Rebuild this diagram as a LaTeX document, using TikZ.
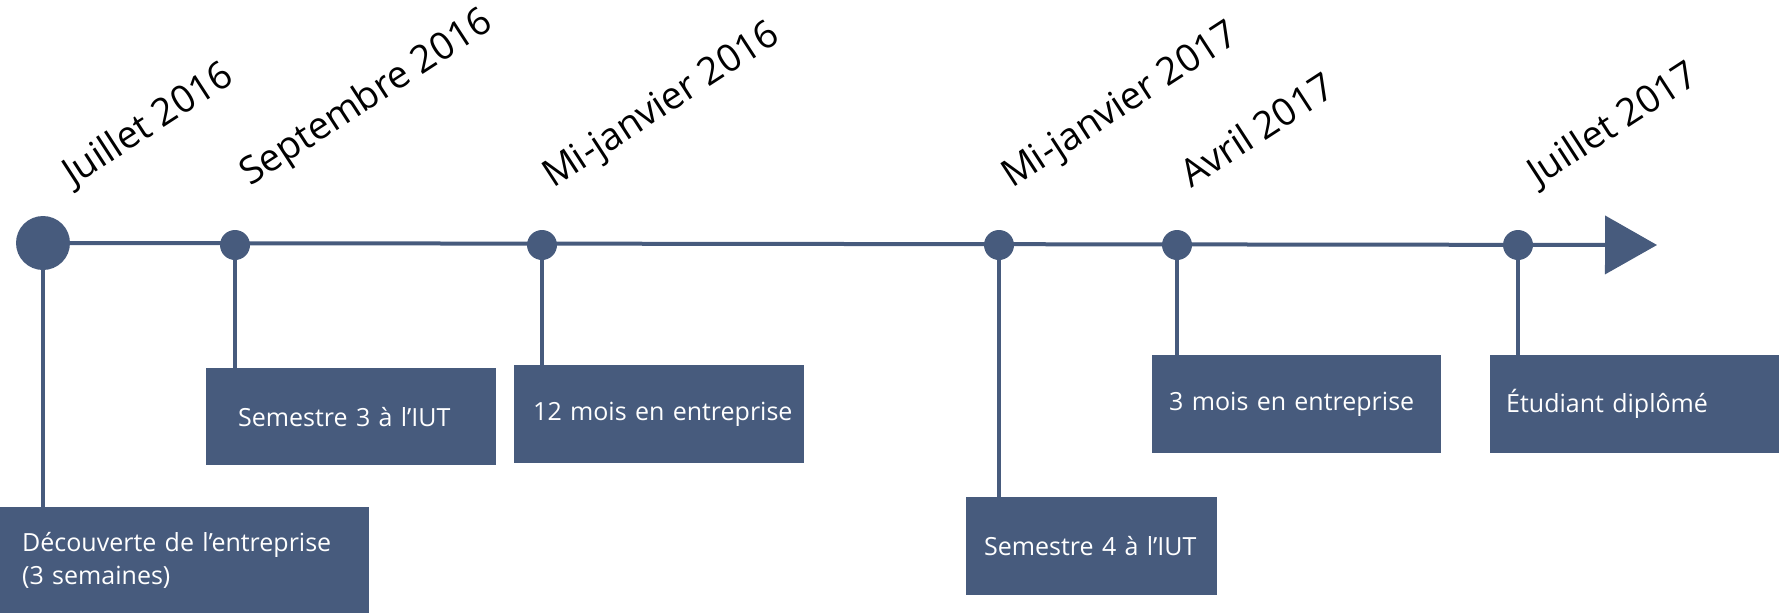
\documentclass[tikz,border=0pt]{standalone}
\usepackage{fontspec}
\setmainfont{Open Sans}
\usetikzlibrary{arrows.meta}
\definecolor{timeblue}{HTML}{475B7D}
\tikzset{
  dot/.style={circle,fill=timeblue,inner sep=0pt,minimum size=30pt},
  bigdot/.style={dot,minimum size=54pt},
  datelabel/.style={anchor=base west,rotate=33,inner sep=0pt,font=\fontsize{38}{40}\selectfont},
  stepbox/.style={rectangle,fill=timeblue,text=white,anchor=north west,inner xsep=0pt,inner ysep=0pt,font=\fontsize{25}{33}\selectfont},
  pad/.style={execute at begin node={\leftskip=#1pt\hyphenpenalty=10000}},
  stem/.style={draw=timeblue,line width=3.5pt},
  mainline/.style={draw=timeblue,line width=4pt,-{Triangle[width=58pt,length=52pt]}},
}
\begin{document}
\begin{tikzpicture}[x=1pt,y=-1pt]

%SPACING
\useasboundingbox (0,0) rectangle (1779,614);
%SPACING

\node[bigdot](jul16) at (43,243) {};
\node[dot](sep16) at (235,245) {};
\node[dot](jan16) at (542,245) {};
\node[dot](jan17) at (999,245) {};
\node[dot](avr17) at (1177,245) {};
\node[dot](jul17) at (1518,245) {};
\coordinate (tip) at (1657,245);

\node[datelabel](l1) at (73,187) {Juillet 2016};
\node[datelabel](l2) at (250,187) {Septembre 2016};
\node[datelabel](l3) at (553,189) {Mi-janvier 2016};
\node[datelabel](l4) at (1012,189) {Mi-janvier 2017};
\node[datelabel](l5) at (1191,189) {Avril 2017};
\node[datelabel](l6) at (1538,187) {Juillet 2017};

\node[stepbox,pad=22,text width=369pt,minimum height=106pt](b1) at (0,507) {Découverte de l’entreprise\\(3 semaines)};
\node[stepbox,pad=32,text width=290pt,minimum height=97pt](b2) at (206,368) {Semestre 3 à l’IUT};
\node[stepbox,pad=19,text width=290pt,minimum height=98pt](b3) at (514,365) {12 mois en entreprise};
\node[stepbox,pad=18,text width=251pt,minimum height=98pt](b4) at (966,497) {Semestre 4 à l’IUT};
\node[stepbox,pad=17,text width=289pt,minimum height=98pt](b5) at (1152,355) {3 mois en entreprise};
\node[stepbox,pad=16,text width=289pt,minimum height=98pt](b6) at (1490,355) {Étudiant diplômé};

\draw[mainline] (jul16) -- (tip);

\draw[stem] (jul16) -- (jul16 |- b1.north);
\draw[stem] (sep16) -- (sep16 |- b2.north);
\draw[stem] (jan16) -- (jan16 |- b3.north);
\draw[stem] (jan17) -- (jan17 |- b4.north);
\draw[stem] (avr17) -- (avr17 |- b5.north);
\draw[stem] (jul17) -- (jul17 |- b6.north);

\end{tikzpicture}
\end{document}
